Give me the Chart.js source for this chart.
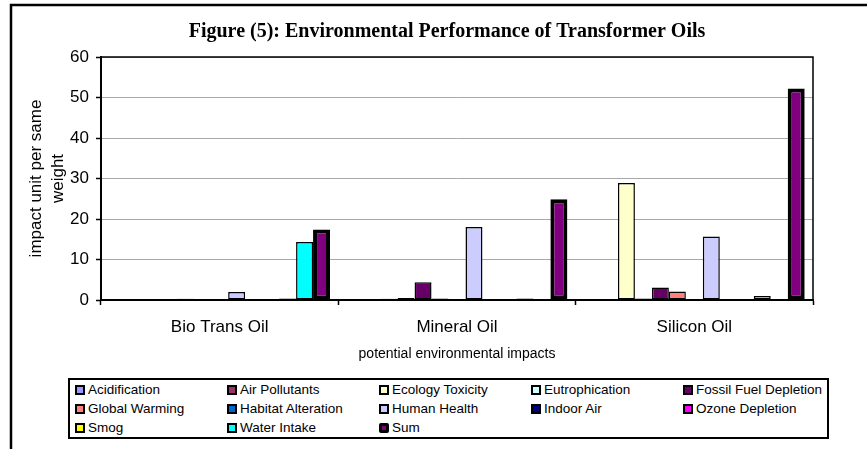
<!DOCTYPE html>
<html>
<head>
<meta charset="utf-8">
<script src="https://cdn.jsdelivr.net/npm/chart.js@4"></script>
<style>
  html, body { margin: 0; padding: 0; background: #fff; }
  #wrap { position: relative; width: 867px; height: 449px; overflow: hidden; }
  #legend {
    position: absolute; left: 68px; top: 378px; width: 761px; height: 61px;
    box-sizing: border-box; border: 2px solid #000; background: #fff;
    padding: 0 0 0 5px;
    display: grid; grid-template-columns: repeat(5, 152px); grid-auto-rows: 19px;
    font: 13.5px "Liberation Sans", Arial, sans-serif; color: #000;
  }
  .item { display: flex; align-items: center; white-space: nowrap; }
  .mark { width: 10px; height: 10px; box-sizing: border-box; border: 2px solid #000; margin-right: 3px; }
</style>
</head>
<body>
<div id="wrap">
  <canvas id="chart" width="867" height="449"></canvas>
  <div id="legend"></div>
</div>
<script>
const categories = ["Bio Trans Oil", "Mineral Oil", "Silicon Oil"];

const seriesNames = [
  "Acidification", "Air Pollutants", "Ecology Toxicity", "Eutrophication",
  "Fossil Fuel Depletion", "Global Warming", "Habitat Alteration", "Human Health",
  "Indoor Air", "Ozone Depletion", "Smog", "Water Intake", "Sum",
];

const seriesColors = [
  "#9999FF", "#993366", "#FFFFCC", "#CCFFFF", "#660066", "#FF8080", "#0066CC",
  "#CCCCFF", "#000080", "#FF00FF", "#FFFF00", "#00FFFF", "#800080",
];

// values per category, in series order
const bioTransOil = [0.1, 0.1, 0.1, 0.1, 0.3, 0.1, 0, 2.0, 0, 0, 0.4, 14.3, 17.4];
const mineralOil  = [0.1, 0.2, 0.3, 0.5, 4.4, 0.4, 0, 18.0, 0, 0, 0.4, 0, 24.9];
const siliconOil  = [0, 0.2, 28.9, 0.4, 3.1, 2.1, 0, 15.7, 0, 0, 1.0, 0, 52.2];

const yTicks = [0, 10, 20, 30, 40, 50, 60];

const sans = "'Liberation Sans', Arial, sans-serif";

const byCategory = [bioTransOil, mineralOil, siliconOil];
const datasets = seriesNames.map((name, i) => ({
  label: name,
  data: byCategory.map((vals) => vals[i]),
  backgroundColor: seriesColors[i],
  borderColor: "#000",
  borderWidth: name === "Sum" ? 4 : 1.5,
  borderSkipped: false,
  categoryPercentage: 0.93,
  barPercentage: 1.0,
}));

// outer frame + plot box, and a small nudge of the title
const framePlugin = {
  id: "frame",
  afterLayout(chart) {
    const t = chart.titleBlock;
    if (t) { t.left -= 10; t.right -= 10; }
  },
  beforeDraw(chart) {
    const ctx = chart.ctx;
    ctx.save();
    ctx.strokeStyle = "#000";
    ctx.lineWidth = 2.5;
    ctx.beginPath();
    ctx.moveTo(867, 5);
    ctx.lineTo(11, 5);
    ctx.lineTo(11, 449);
    ctx.stroke();
    ctx.restore();
  },
  beforeDatasetsDraw(chart) {
    const { ctx, chartArea: a } = chart;
    ctx.save();
    ctx.strokeStyle = "#000";
    ctx.lineWidth = 1.5;
    ctx.beginPath();
    ctx.moveTo(a.left, a.top);
    ctx.lineTo(a.right, a.top);
    ctx.lineTo(a.right, a.bottom);
    ctx.stroke();
    ctx.restore();
  },
};

new Chart(document.getElementById("chart"), {
  type: "bar",
  data: { labels: categories, datasets },
  plugins: [framePlugin],
  options: {
    responsive: false,
    animation: false,
    layout: { padding: { left: 26, right: 54, top: 0, bottom: 79 } },
    scales: {
      x: {
        afterFit(scale) { scale.height = 70; },
        grid: {
          display: true, drawOnChartArea: false, drawTicks: true,
          tickLength: 5, tickColor: "#000", tickWidth: 1.5,
        },
        border: { color: "#000", width: 2 },
        ticks: { color: "#000", font: { family: sans, size: 17 }, padding: 12 },
        title: {
          display: true, text: "potential environmental impacts", color: "#000",
          font: { family: sans, size: 14 }, padding: { top: 0, bottom: 7.6 },
        },
      },
      y: {
        min: 0, max: 60,
        afterFit(scale) { scale.width = 75; },
        afterBuildTicks(scale) { scale.ticks = yTicks.map((v) => ({ value: v })); },
        grid: { color: "#a8a8a8", lineWidth: 1, tickLength: 5, tickColor: "#000", tickWidth: 1.5 },
        border: { color: "#000", width: 2 },
        ticks: { color: "#000", font: { family: sans, size: 17 }, padding: 7 },
        title: {
          display: true, text: ["impact unit per same", "weight"], color: "#000",
          font: { family: sans, size: 17, lineHeight: 1.25 }, padding: { top: 0, bottom: 2 },
        },
      },
    },
    plugins: {
      legend: { display: false },
      tooltip: { enabled: false },
      title: {
        display: true, fullSize: false,
        text: "Figure (5): Environmental Performance of Transformer Oils",
        color: "#000",
        font: { family: "'Liberation Serif', 'Times New Roman', serif", size: 20, weight: "bold" },
        padding: { top: 20, bottom: 13 },
      },
    },
  },
});

// legend in fixed columns like the original
const legend = document.getElementById("legend");
legend.innerHTML = seriesNames.map((name, i) => `
  <div class="item"><span class="mark" style="background:${seriesColors[i]};${name === "Sum" ? "border-width:3px;border-radius:2px" : ""}"></span>${name}</div>
`).join("");
</script>
</body>
</html>
